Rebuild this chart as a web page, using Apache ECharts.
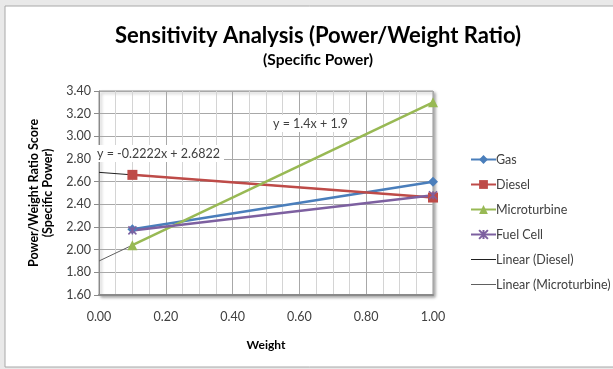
<!DOCTYPE html>
<html><head><meta charset="utf-8">
<style>html,body{margin:0;padding:0;background:#e9e9e9;}#c{width:613px;height:369px;}</style>
<script src="https://cdn.jsdelivr.net/npm/echarts@6/dist/echarts.min.js"></script>
</head><body><div id="c"></div>
<script>
const seriesNames = ['Gas','Diesel','Microturbine','Fuel Cell'];
const weights = [0.1, 1.0];
const gasValues = [2.18, 2.60];
const dieselValues = [2.66, 2.46];
const microValues = [2.04, 3.30];
const fuelCellValues = [2.17, 2.48];
const trendX = [0, 1];
const dieselTrend = [2.6822, 2.46];
const microTrend = [1.9, 3.3];
const xTicks = ['0.00','0.20','0.40','0.60','0.80','1.00'];
const dieselEq = 'y = -0.2222x + 2.6822';
const microEq = 'y = 1.4x + 1.9';

const FONT = 'Lato, "Open Sans", sans-serif';
function pts(xs, ys){ return xs.map((x,i)=>[x, ys[i]]); }
const chart = echarts.init(document.getElementById('c'), null, {renderer:'canvas'});
const colors = ['#4a7ebb','#be4b48','#98b954','#7d60a0','#202020','#606060'];
function mk(name, ys, color, symbol, size){
  return {name, type:'line', data: pts(weights, ys), symbol, symbolSize:size,
    lineStyle:{color, width:2.5}, itemStyle:{color, borderColor:color, borderWidth: symbol.startsWith('path')?1.5:0},
    z:3};
}
const lineIcon = 'path://M0,0h25v1h-25z';
chart.setOption({
  backgroundColor:'transparent',
  color: colors,
  animation:false,
  textStyle:{fontFamily:FONT},
  graphic:[
    {type:'rect', shape:{x:5,y:6,width:640,height:361}, style:{fill:'#fff', stroke:'#a8a8a8', lineWidth:1}, z:-10},
    {type:'text', left:93, top:145, z:20, style:{text:dieselEq, font:'12.5px '+FONT, fill:'#404040', backgroundColor:'#fff', padding:[2,4]}},
    {type:'text', left:269, top:115, z:20, style:{text:microEq, font:'12.5px '+FONT, fill:'#404040', backgroundColor:'#fff', padding:[2,4]}}
  ],
  title:{
    text:'Sensitivity Analysis (Power/Weight Ratio)', subtext:'(Specific Power)',
    left:313, textAlign:'center', top:20, itemGap:5,
    textStyle:{fontFamily:FONT, fontSize:22, fontWeight:'bold', color:'#000'},
    subtextStyle:{fontFamily:FONT, fontSize:15.5, fontWeight:'bold', color:'#000'}
  },
  legend:{
    orient:'vertical', left:465, top:148, itemWidth:25, itemHeight:11, itemGap:12,
    textStyle:{fontFamily:FONT, fontSize:12.5, color:'#404040', padding:[0,0,0,-5]},
    data:['Gas','Diesel','Microturbine','Fuel Cell',
      {name:'Linear (Diesel)', icon:lineIcon},
      {name:'Linear (Microturbine)', icon:lineIcon}]
  },
  grid:{left:99, right:180, top:91, bottom:74, show:true, backgroundColor:'#fff', borderColor:'#9a9a9a', borderWidth:1,
    shadowColor:'rgba(0,0,0,0.35)', shadowBlur:3, shadowOffsetX:2, shadowOffsetY:2},
  xAxis:{type:'value', min:0, max:1, interval:0.2, name:'Weight', nameLocation:'middle', nameGap:44,
    nameTextStyle:{fontFamily:FONT, fontSize:12, fontWeight:'bold', color:'#000'},
    axisLine:{show:true, lineStyle:{color:'#8a8a8a', width:2}},
    axisTick:{show:false},
    axisLabel:{margin:15, fontSize:12.5, color:'#404040', fontFamily:FONT, formatter:(v)=>xTicks[Math.round(v/0.2)]},
    splitLine:{show:true, lineStyle:{color:'#a8a8a8', width:1}},
    minorTick:{show:false, splitNumber:4},
    minorSplitLine:{show:true, lineStyle:{color:'#d4d4d4', width:1}}
  },
  yAxis:{type:'value', min:1.6, max:3.4, interval:0.2, name:'Power/Weight Ratio Score\n(Specific Power)',
    nameLocation:'middle', nameRotate:90, nameGap:41,
    nameTextStyle:{fontFamily:FONT, fontSize:12.5, fontWeight:'bold', color:'#000', lineHeight:14},
    axisLine:{show:true, lineStyle:{color:'#8a8a8a', width:1}},
    axisTick:{show:true, inside:false, length:5, lineStyle:{color:'#8a8a8a'}},
    axisLabel:{margin:8, fontSize:12.5, color:'#404040', fontFamily:FONT, formatter:(v)=>v.toFixed(2)},
    splitLine:{show:true, lineStyle:{color:'#a8a8a8', width:1}}
  },
  series:[
    mk('Gas', gasValues, colors[0], 'diamond', 10),
    mk('Diesel', dieselValues, colors[1], 'rect', 10),
    mk('Microturbine', microValues, colors[2], 'triangle', 10),
    mk('Fuel Cell', fuelCellValues, colors[3], 'path://M0,0L10,10M10,0L0,10M5,0L5,10', 8),
    {name:'Linear (Diesel)', type:'line', data: pts(trendX, dieselTrend), symbol:'none', lineStyle:{color:colors[4], width:1}, itemStyle:{color:colors[4]}, z:2},
    {name:'Linear (Microturbine)', type:'line', data: pts(trendX, microTrend), symbol:'none', lineStyle:{color:colors[5], width:1}, itemStyle:{color:colors[5]}, z:2}
  ]
});
</script></body></html>
